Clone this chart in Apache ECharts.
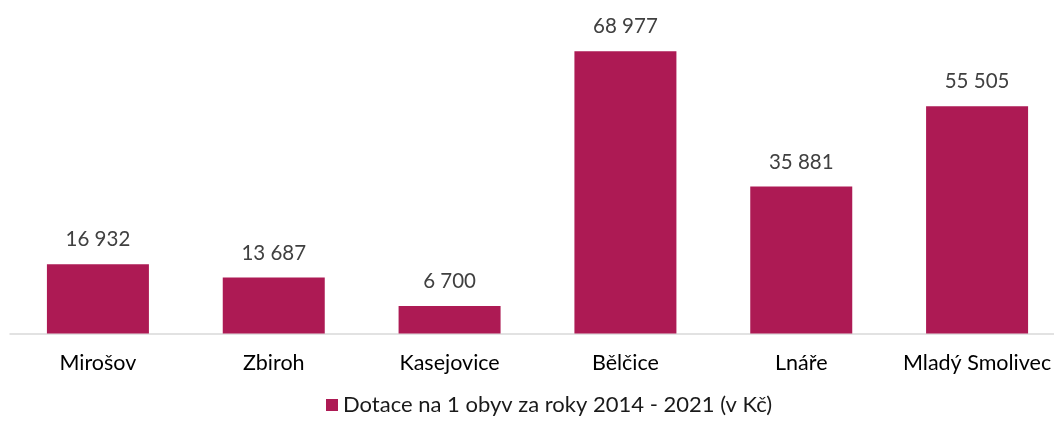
<!DOCTYPE html>
<html>
<head>
<meta charset="utf-8">
<script src="https://cdn.jsdelivr.net/npm/echarts@6/dist/echarts.min.js"></script>
<style>
  html, body { margin: 0; padding: 0; background: #fff; }
  #chart { width: 1054px; height: 422px; }
</style>
</head>
<body>
<div id="chart"></div>
<script>
// Obce a dotace na jednoho obyvatele
const categories = ['Mirošov', 'Zbiroh', 'Kasejovice', 'Bělčice', 'Lnáře', 'Mladý Smolivec'];
const values = [16932, 13687, 6700, 68977, 35881, 55505];
const seriesName = 'Dotace na 1 obyv za roky 2014 - 2021 (v Kč)';

const FONT = 'Lato';
const BAR = '#AD1A54';

function fmt(v) {
  return String(v).replace(/\B(?=(\d{3})+(?!\d))/g, ' ');
}

const chart = echarts.init(document.getElementById('chart'), null, { renderer: 'canvas' });
chart.setOption({
  animation: false,
  textStyle: { fontFamily: FONT },
  grid: { left: 10, top: 6, width: 1055, height: 327.5, containLabel: false, outerBoundsMode: 'none' },
  legend: {
    show: true,
    bottom: 1,
    left: 321,
    itemWidth: 12,
    itemHeight: 12,
    itemGap: 7,
    icon: 'rect',
    textStyle: { fontFamily: FONT, fontSize: 22, color: '#1a1a1a' },
    data: [seriesName]
  },
  xAxis: {
    type: 'category',
    data: categories,
    axisLine: { show: true, lineStyle: { color: '#D9D9D9', width: 1.5 } },
    axisTick: { show: false },
    axisLabel: { interval: 0, fontFamily: FONT, fontSize: 21.5, color: '#000', margin: 19 }
  },
  yAxis: {
    type: 'value',
    min: 0,
    max: 80000,
    show: false,
    splitLine: { show: false }
  },
  series: [{
    name: seriesName,
    type: 'bar',
    data: values,
    barWidth: 102,
    itemStyle: { color: BAR },
    label: {
      show: true,
      position: 'top',
      distance: 14,
      fontFamily: FONT,
      fontSize: 20.5,
      color: '#404040',
      formatter: p => fmt(p.value)
    }
  }]
});
</script>
</body>
</html>
